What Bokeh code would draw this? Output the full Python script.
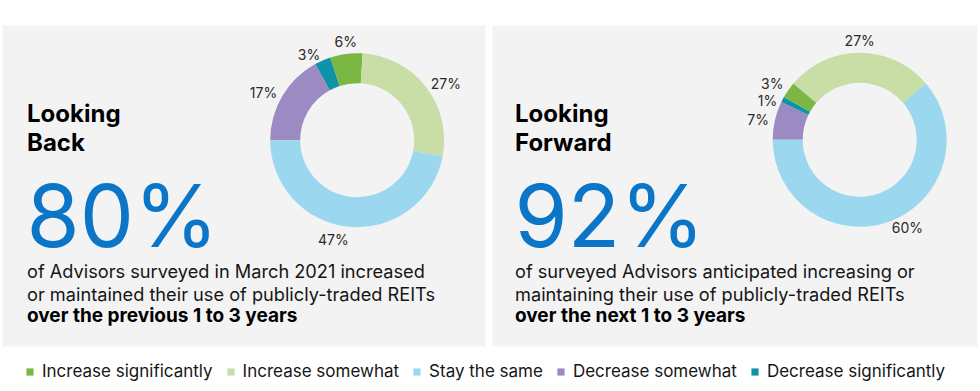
import math
from bokeh.plotting import figure
from bokeh.models import Range1d, Legend, LegendItem
from bokeh.core.properties import value
from bokeh.embed import file_html
from bokeh.resources import INLINE

# ---------------- data ----------------
categories = ["Increase significantly", "Increase somewhat", "Stay the same",
              "Decrease somewhat", "Decrease significantly"]
colors = ["#7ab843", "#c9dea6", "#9bd8f0", "#9c8bc3", "#0f93a6"]
back_values = [6, 27, 47, 17, 3]
forward_values = [3, 27, 60, 7, 1]
# slices are drawn clockwise starting at 9 o'clock in this order
draw_order = ["Decrease somewhat", "Decrease significantly", "Increase significantly",
              "Increase somewhat", "Stay the same"]

back_title = ["Looking", "Back"]
forward_title = ["Looking", "Forward"]
back_headline = "80%"
forward_headline = "92%"
back_lines = ["of Advisors surveyed in March 2021 increased",
              "or maintained their use of publicly-traded REITs"]
back_bold = "over the previous 1 to 3 years"
forward_lines = ["of surveyed Advisors anticipated increasing or",
                 "maintaining their use of publicly-traded REITs"]
forward_bold = "over the next 1 to 3 years"

# ---------------- style ----------------
FONT = "Inter"
PANEL = "#f3f3f3"
BLUE = "#0b76c8"
TXT = "#161616"
LBL = "#2a2a2a"
W, H = 980, 391

p = figure(width=W, height=H, x_range=Range1d(0, W), y_range=Range1d(H, 0),
           output_backend="svg", toolbar_location=None, min_border=0,
           x_axis_type=None, y_axis_type=None)
p.grid.visible = False
p.outline_line_color = None
p.background_fill_color = "white"
p.border_fill_color = "white"

# panels
p.quad(left=[2, 492], right=[485, 977], top=[25, 25], bottom=[346, 346],
       fill_color=PANEL, line_color=None)

color_of = dict(zip(categories, colors))
legend_renderers = {}


def donut(cx, cy, vals, r_in=57, r_out=87, keep=False):
    vmap = dict(zip(categories, vals))
    total = float(sum(vals))
    cum = 0.0
    labels = []
    for cat in draw_order:
        v = vmap[cat]
        a0 = math.pi - cum / total * 2 * math.pi
        cum += v
        a1 = math.pi - cum / total * 2 * math.pi
        r = p.annular_wedge(x=[cx], y=[cy], inner_radius=r_in, outer_radius=r_out,
                            inner_radius_units="screen", outer_radius_units="screen",
                            start_angle=a1, end_angle=a0, direction="anticlock",
                            fill_color=color_of[cat], line_color=None)
        if keep:
            legend_renderers[cat] = r
        mid = (a0 + a1) / 2
        c, s = math.cos(mid), math.sin(mid)
        if c > 0.3:
            R = r_out + 6
            labels.append(dict(x=cx + R * c, y=cy - R * s, t=f"{v}%", align="left", base="middle"))
        elif c < -0.3:
            R = r_out + 6
            labels.append(dict(x=cx + R * c, y=cy - R * s, t=f"{v}%", align="right", base="middle"))
        elif s > 0:
            R = r_out + 4
            labels.append(dict(x=cx + R * c, y=cy - R * s, t=f"{v}%", align="center", base="bottom"))
        else:
            R = r_out + 4
            labels.append(dict(x=cx + R * c, y=cy - R * s, t=f"{v}%",
                               align="right" if c < 0 else "left", base="top"))
    # spread colliding side labels
    for side in ("left", "right"):
        grp = sorted([l for l in labels if l["align"] == side and l["base"] == "middle"],
                     key=lambda d: d["y"])
        for _ in range(20):
            for a, b in zip(grp, grp[1:]):
                gap = b["y"] - a["y"]
                if gap < 17:
                    d = (17 - gap) / 2
                    a["y"] -= d
                    b["y"] += d
    for l in labels:
        p.text(x=[l["x"]], y=[l["y"]], text=[l["t"]], text_font=value(FONT),
               text_font_size="14px", text_color=LBL, text_align=l["align"],
               text_baseline=l["base"])


donut(356.7, 139.7, back_values, keep=True)
donut(859.2, 139.3, forward_values)


def line(x, baseline, t, size, color, bold=False):
    # anchor at the middle of the capitals (cap height ~0.727 em)
    p.text(x=[x], y=[baseline - 0.3635 * size], text=[t], text_font=value(FONT),
           text_font_style="bold" if bold else "normal", text_font_size=f"{size}px",
           text_color=color, text_baseline="middle", text_align="left")


def panel_text(x0, title, headline, lines, bold):
    for i, t in enumerate(title):
        line(x0, 122 + 29 * i, t, 24, "#000000", bold=True)
    line(x0 - 0.5, 246.5, headline, 86, BLUE)
    for i, t in enumerate(lines):
        line(x0, 277.3 + 22.5 * i, t, 18.2, TXT)
    line(x0, 321.7, bold, 19, "#000000", bold=True)


panel_text(26.5, back_title, back_headline, back_lines, back_bold)
panel_text(514.5, forward_title, forward_headline, forward_lines, forward_bold)

# legend
items = [LegendItem(label=cat, renderers=[legend_renderers[cat]]) for cat in categories]
legend = Legend(items=items, orientation="horizontal", location=(25, 10),
                glyph_width=9, glyph_height=9, label_standoff=8, spacing=13,
                padding=0, margin=0, border_line_color=None, background_fill_alpha=0,
                label_text_font=FONT, label_text_font_size="17px",
                label_text_color=TXT, label_height=20)
p.add_layout(legend, "center")

open("out.html", "w").write(file_html(p, INLINE))
